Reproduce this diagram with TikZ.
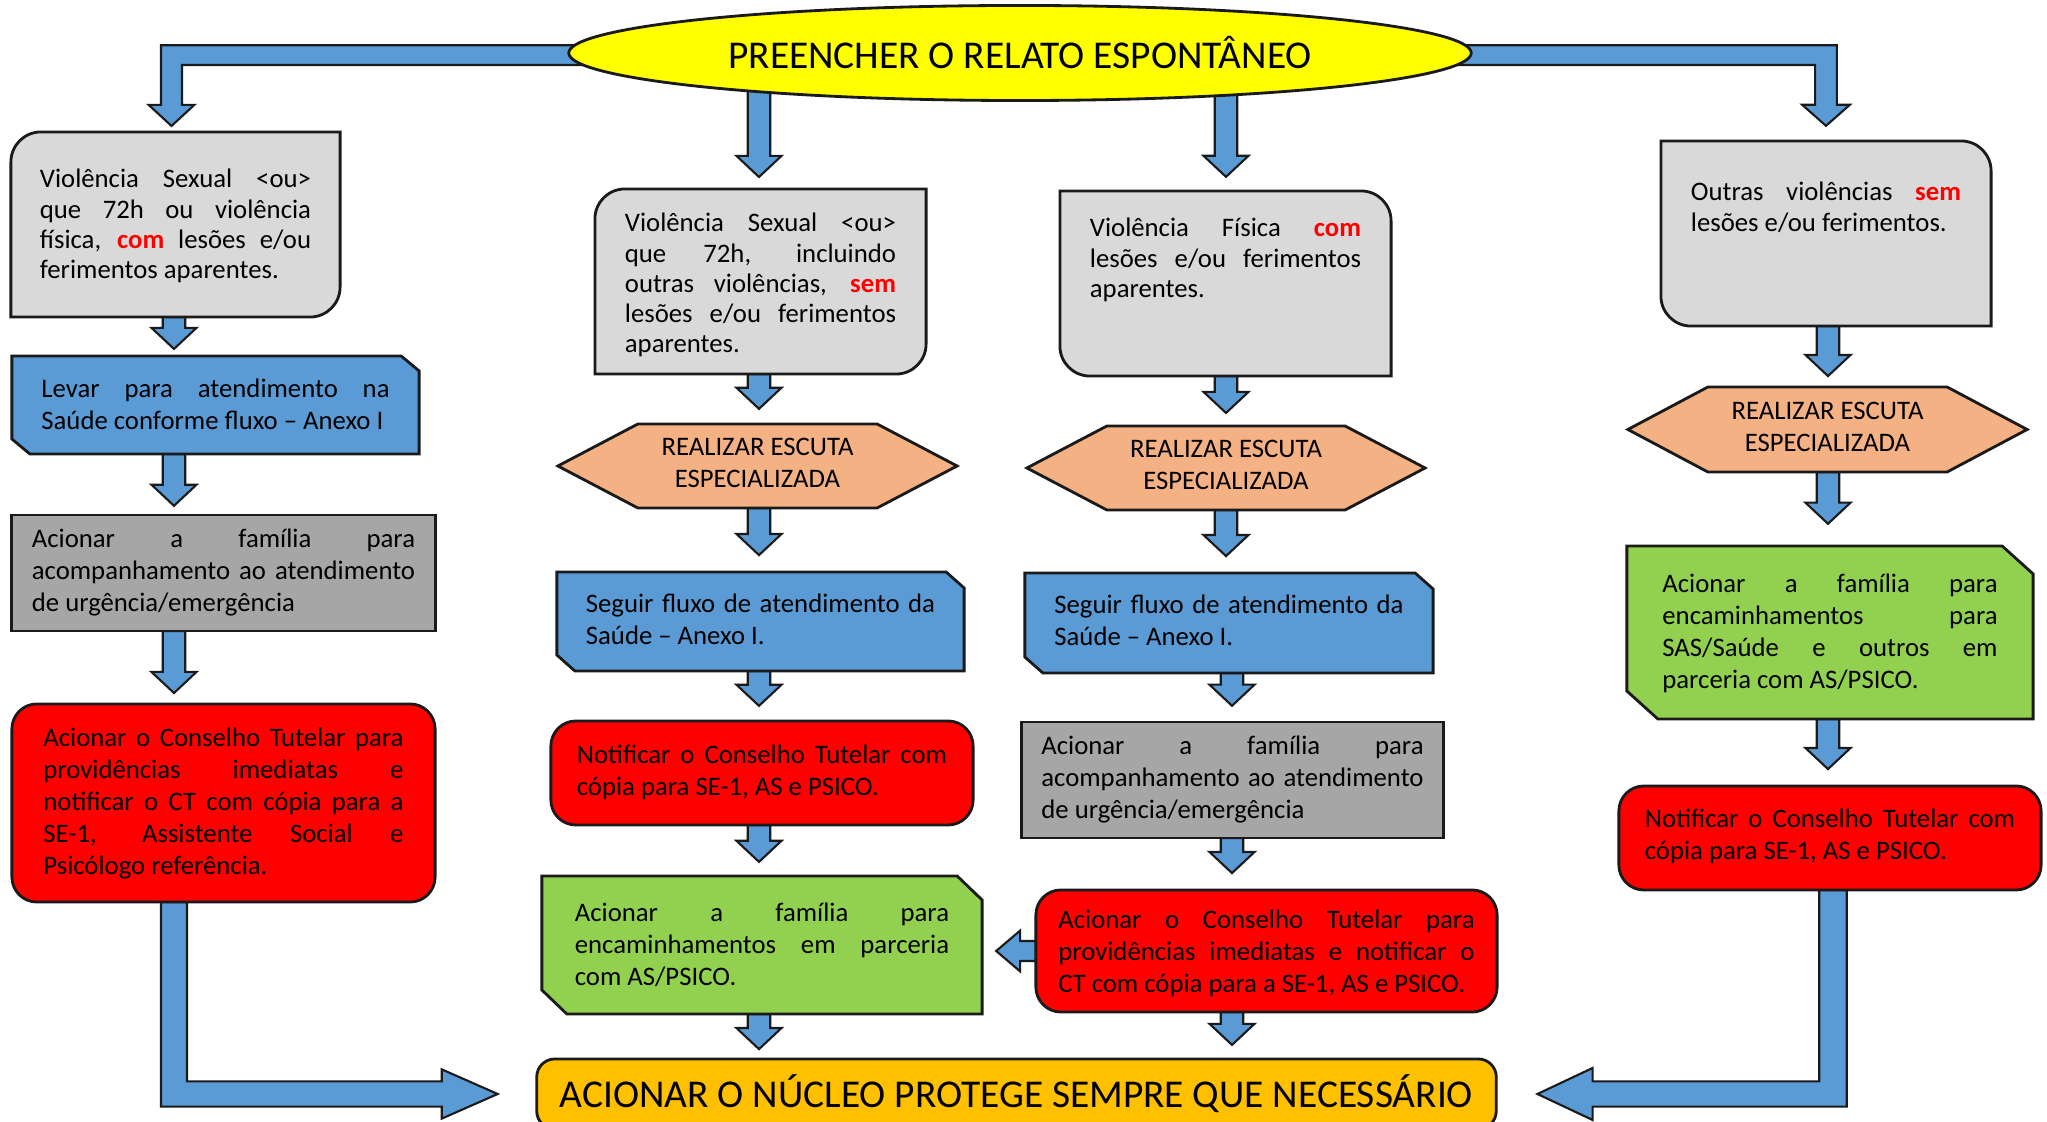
\documentclass[tikz,border=0pt]{standalone}
\usepackage{fontspec}
\setmainfont{Carlito}
\usepackage{tikz}
\usetikzlibrary{calc,backgrounds,shapes.geometric}

\definecolor{grayfill}{HTML}{D9D9D9}
\definecolor{darkfill}{HTML}{A6A6A6}
\definecolor{bluefill}{HTML}{5B9BD5}
\definecolor{orangefill}{HTML}{F4B183}
\definecolor{greenfill}{HTML}{92D050}
\definecolor{redfill}{HTML}{FF0000}
\definecolor{goldfill}{HTML}{FFC000}
\definecolor{titlefill}{HTML}{FFFF00}
\definecolor{edge}{HTML}{1A1A1A}

\hyphenpenalty=10000
\exhyphenpenalty=10000
\tolerance=10000
\hbadness=10000

\newcommand{\enf}[1]{\textcolor{red}{\textbf{#1}}}
\newcommand{\toptext}[5][]{\parbox[c][#3][t]{#2}{#1\rule{0pt}{#4}#5}}
\newcommand{\tightskip}{\fontsize{7.6}{8.55}\selectfont}
\newcommand{\cornerrad}{0.3cm}

% block arrow pointing down: [gap]{column}{from}{to}
\newcommand{\fatdown}[4][4pt]{%
  \draw[fatarrow] let \p1=(#3 -| #2), \p2=(#4 -| #2) in
    (\x1-3.2pt,\y1) -- (\x1-3.2pt,\y2+#1+6pt) -- (\x1-6.4pt,\y2+#1+6pt)
    -- (\x1,\y2+#1) -- (\x1+6.4pt,\y2+#1+6pt) -- (\x1+3.2pt,\y2+#1+6pt)
    -- (\x1+3.2pt,\y1) -- cycle;}
\newcommand{\cornerboxA}[1]{%
  \draw[shapeline,fill=grayfill] ([yshift=-\cornerrad]#1.north west)
    arc[start angle=180,end angle=90,radius=\cornerrad] -- (#1.north east)
    -- ([yshift=\cornerrad]#1.south east)
    arc[start angle=0,end angle=-90,radius=\cornerrad] -- (#1.south west) -- cycle;}
\newcommand{\cornerboxB}[1]{%
  \draw[shapeline,fill=grayfill] (#1.north west) -- ([xshift=-\cornerrad]#1.north east)
    arc[start angle=90,end angle=0,radius=\cornerrad] -- (#1.south east)
    -- ([xshift=\cornerrad]#1.south west)
    arc[start angle=270,end angle=180,radius=\cornerrad] -- cycle;}
\newcommand{\hexbox}[1]{%
  \draw[shapeline,fill=orangefill] (#1.north west) -- (#1.north east)
    -- ([xshift=0.8cm]#1.east) -- (#1.south east) -- (#1.south west)
    -- ([xshift=-0.8cm]#1.west) -- cycle;}
\newcommand{\snipbox}[4]{%
  \draw[shapeline,fill=#2] (#1.north west) -- ([xshift=-#3]#1.north east)
    -- ([yshift=-#4]#1.north east) -- (#1.south east)
    -- ([xshift=#3]#1.south west) -- ([yshift=#4]#1.south west) -- cycle;}

\begin{document}
\begin{tikzpicture}[x=0.01cm,y=-0.01cm,font=\fontsize{7.6}{9.1}\selectfont]

\tikzstyle{bare}=[inner sep=0pt,outer sep=0pt]
\tikzstyle{shapeline}=[draw=edge,line width=0.8pt]
\tikzstyle{darkbox}=[bare,shapeline,fill=darkfill]
\tikzstyle{redbox}=[bare,shapeline,fill=redfill,rounded corners=0.25cm]
\tikzstyle{fatarrow}=[draw=edge,fill=bluefill,line width=0.6pt]
\tikzstyle{bigtext}=[font=\fontsize{11.2}{13}\selectfont]

\useasboundingbox (0,0) rectangle (2047,1122);

\node[bigtext,ellipse,shapeline,fill=titlefill,inner sep=0pt,
  minimum width=9.02cm,minimum height=0.95cm] (title) at (1020,53)
  {PREENCHER O RELATO ESPONTÂNEO};

\coordinate (colAtop) at (171.5,0);
\coordinate (colA) at (174,0);
\coordinate (colB) at (759,0);
\coordinate (colC) at (1226,0);
\coordinate (colClow) at (1232,0);
\coordinate (colDtop) at (1826,0);
\coordinate (colD) at (1828,0);
\coordinate (colDlow) at (1833,0);

% first column
\node[bare,minimum width=3.29cm] (a1) at (175.5,224.5)
  {\toptext[\tightskip]{2.71cm}{1.85cm}{0.56cm}{Violência Sexual <ou>\linebreak
   que 72h ou violência\linebreak física, \enf{com} lesões e/ou\linebreak ferimentos aparentes.}};
\node[bare,minimum width=4.07cm] (a2) at (215.5,405)
  {\toptext{3.48cm}{0.98cm}{0.42cm}{Levar para atendimento na\linebreak
   Saúde conforme fluxo – Anexo I}};
\node[darkbox,minimum width=4.23cm] (a3) at (223.5,573)
  {\toptext{3.83cm}{1.16cm}{0.33cm}{Acionar a família para\linebreak
   acompanhamento ao atendimento\linebreak de urgência/emergência}};
\node[redbox,minimum width=4.23cm] (a4) at (223.5,803)
  {\toptext{3.60cm}{1.98cm}{0.43cm}{Acionar o Conselho Tutelar para\linebreak
   providências imediatas e\linebreak notificar o CT com cópia para a\linebreak
   SE-1, Assistente Social e\linebreak Psicólogo referência.}};

% second column
\node[bare,minimum width=3.31cm] (b1) at (760.5,281.5)
  {\toptext[\tightskip]{2.71cm}{1.85cm}{0.43cm}{Violência Sexual <ou>\linebreak
   que 72h, incluindo\linebreak outras violências, \enf{sem}\linebreak
   lesões e/ou ferimentos\linebreak aparentes.}};
\node[bare,minimum width=2.39cm] (b2) at (757.5,466)
  {\toptext[\centering]{2.39cm}{0.84cm}{0.32cm}{REALIZAR ESCUTA\\ESPECIALIZADA}};
\node[bare,minimum width=4.07cm] (b3) at (760.5,621.5)
  {\toptext{3.49cm}{0.99cm}{0.41cm}{Seguir fluxo de atendimento da\linebreak
   Saúde – Anexo I.}};
\node[redbox,minimum width=4.22cm] (b4) at (762,773)
  {\toptext{3.70cm}{1.04cm}{0.43cm}{Notificar o Conselho Tutelar com\linebreak
   cópia para SE-1, AS e PSICO.}};
\node[bare,minimum width=4.40cm] (b5) at (762,945)
  {\toptext{3.74cm}{1.38cm}{0.46cm}{Acionar a família para\linebreak
   encaminhamentos em parceria\linebreak com AS/PSICO.}};

% third column
\node[bare,minimum width=3.31cm] (c1) at (1225.5,283.5)
  {\toptext[\tightskip]{2.71cm}{1.85cm}{0.46cm}{Violência Física \enf{com}\linebreak
   lesões e/ou ferimentos\linebreak aparentes.}};
\node[bare,minimum width=2.38cm] (c2) at (1226,468)
  {\toptext[\centering]{2.38cm}{0.84cm}{0.32cm}{REALIZAR ESCUTA\\ESPECIALIZADA}};
\node[bare,minimum width=4.08cm] (c3) at (1229,623)
  {\toptext{3.49cm}{1.00cm}{0.41cm}{Seguir fluxo de atendimento da\linebreak
   Saúde – Anexo I.}};
\node[darkbox,minimum width=4.21cm] (c4) at (1232.5,780)
  {\toptext{3.82cm}{1.16cm}{0.33cm}{Acionar a família para\linebreak
   acompanhamento ao atendimento\linebreak de urgência/emergência}};
\node[redbox,minimum width=4.61cm] (c5) at (1266.5,951)
  {\toptext{4.16cm}{1.22cm}{0.39cm}{Acionar o Conselho Tutelar para\linebreak
   providências imediatas e notificar o\linebreak CT com cópia para a SE-1, AS e PSICO.}};

% fourth column
\node[bare,minimum width=3.30cm] (d1) at (1826,233.5)
  {\toptext[\tightskip]{2.70cm}{1.85cm}{0.60cm}{Outras violências \enf{sem}\linebreak
   lesões e/ou ferimentos.}};
\node[bare,minimum width=2.39cm] (d2) at (1827.5,429.5)
  {\toptext[\centering]{2.39cm}{0.85cm}{0.33cm}{REALIZAR ESCUTA\\ESPECIALIZADA}};
\node[bare,minimum width=4.06cm] (d3) at (1830,632.5)
  {\toptext{3.35cm}{1.73cm}{0.47cm}{Acionar a família para\linebreak
   encaminhamentos para\linebreak SAS/Saúde e outros em\linebreak parceria com AS/PSICO.}};
\node[redbox,minimum width=4.22cm] (d4) at (1830,838)
  {\toptext{3.70cm}{1.04cm}{0.42cm}{Notificar o Conselho Tutelar com\linebreak
   cópia para SE-1, AS e PSICO.}};

\node[bigtext,bare,shapeline,fill=goldfill,rounded corners=0.18cm,
  minimum width=9.59cm,minimum height=0.70cm] (bottom) at (1016.5,1094)
  {ACIONAR O NÚCLEO PROTEGE SEMPRE QUE NECESSÁRIO};

\begin{scope}[on background layer]
  \draw[fatarrow] let \p1=(title.center), \p2=(a1.north -| colAtop) in
    (\x1,\y1+2.2pt) -- (\x2-3pt,\y1+2.2pt) -- (\x2-3pt,\y2+7.7pt) -- (\x2-6.5pt,\y2+7.7pt)
    -- (\x2,\y2+1.7pt) -- (\x2+6.5pt,\y2+7.7pt) -- (\x2+3pt,\y2+7.7pt)
    -- (\x2+3pt,\y1-3.4pt) -- (\x1,\y1-3.4pt) -- cycle;
  \draw[fatarrow] let \p1=(title.center), \p2=(d1.north -| colDtop) in
    (\x1,\y1+2.2pt) -- (\x2+3.1pt,\y1+2.2pt) -- (\x2+3.1pt,\y2+10.3pt) -- (\x2+6.8pt,\y2+10.3pt)
    -- (\x2,\y2+4.3pt) -- (\x2-6.8pt,\y2+10.3pt) -- (\x2-3.1pt,\y2+10.3pt)
    -- (\x2-3.1pt,\y1-3.4pt) -- (\x1,\y1-3.4pt) -- cycle;
  \fatdown[3.4pt]{colB}{title.center}{b1.north}
  \fatdown[4pt]{colC}{title.center}{c1.north}

  \fatdown[2pt]{colA}{a1.south}{a2.north}
  \fatdown[2.6pt]{colA}{a2.south}{a3.north}
  \fatdown[3.1pt]{colA}{a3.south}{a4.north}
  \fatdown[4.3pt]{colB}{b1.south}{b2.north}
  \fatdown[4.8pt]{colB}{b2.south}{b3.north}
  \fatdown[4.3pt]{colB}{b3.south}{b4.north}
  \fatdown[4pt]{colB}{b4.south}{b5.north}
  \fatdown[2.8pt]{colB}{b5.south}{bottom.north}
  \fatdown[3.7pt]{colC}{c1.south}{c2.north}
  \fatdown[4.8pt]{colC}{c2.south}{c3.north}
  \fatdown[4.6pt]{colClow}{c3.south}{c4.north}
  \fatdown[4.8pt]{colClow}{c4.south}{c5.north}
  \fatdown[4pt]{colClow}{c5.south}{bottom.north}
  \fatdown[3.1pt]{colD}{d1.south}{d2.north}
  \fatdown[6.3pt]{colD}{d2.south}{d3.north}
  \fatdown[4.8pt]{colD}{d3.south}{d4.north}

  \draw[fatarrow] let \p1=(c5.west), \p2=(b5.east) in
    (\x1,\y1+2.85pt) -- (\x2+10.8pt,\y1+2.85pt) -- (\x2+10.8pt,\y1+5.8pt) -- (\x2+4pt,\y1)
    -- (\x2+10.8pt,\y1-5.8pt) -- (\x2+10.8pt,\y1-2.85pt) -- (\x1,\y1-2.85pt) -- cycle;
  \draw[fatarrow] let \p1=(a4.south -| colA), \p2=(bottom.west) in
    (\x1-3.7pt,\y1) -- (\x1-3.7pt,\y2-3.6pt) -- (\x2-27pt,\y2-3.6pt) -- (\x2-27pt,\y2-7pt)
    -- (\x2-11.1pt,\y2) -- (\x2-27pt,\y2+7pt) -- (\x2-27pt,\y2+3.6pt)
    -- (\x1+3.7pt,\y2+3.6pt) -- (\x1+3.7pt,\y1) -- cycle;
  \draw[fatarrow] let \p1=(d4.south -| colDlow), \p2=(bottom.east) in
    (\x1+3.9pt,\y1) -- (\x1+3.9pt,\y2-3.6pt) -- (\x2+27.4pt,\y2-3.6pt) -- (\x2+27.4pt,\y2-7.4pt)
    -- (\x2+11.7pt,\y2) -- (\x2+27.4pt,\y2+7.4pt) -- (\x2+27.4pt,\y2+3.6pt)
    -- (\x1-3.9pt,\y2+3.6pt) -- (\x1-3.9pt,\y1) -- cycle;

  \cornerboxA{a1}
  \cornerboxA{b1}
  \cornerboxB{c1}
  \cornerboxB{d1}
  \hexbox{b2}
  \hexbox{c2}
  \hexbox{d2}
  \snipbox{a2}{bluefill}{0.18cm}{0.15cm}
  \snipbox{b3}{bluefill}{0.18cm}{0.16cm}
  \snipbox{c3}{bluefill}{0.18cm}{0.16cm}
  \snipbox{b5}{greenfill}{0.25cm}{0.24cm}
  \snipbox{d3}{greenfill}{0.31cm}{0.28cm}
\end{scope}
\end{tikzpicture}
\end{document}
